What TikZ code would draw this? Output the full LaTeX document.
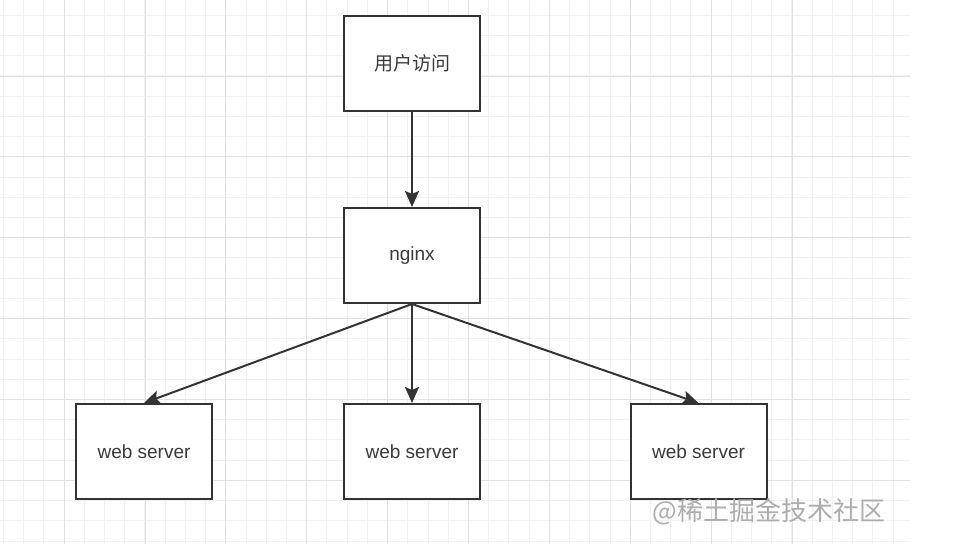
\documentclass[tikz,border=0pt]{standalone}
\usepackage{fontspec}
\setmainfont{Liberation Sans}
\newfontfamily\cjk{Noto Sans CJK SC}
\usepackage{tikz}
\usetikzlibrary{arrows.meta}
\definecolor{edge}{HTML}{333333}
\definecolor{txt}{HTML}{3A3A3A}
\definecolor{minorgrid}{HTML}{F1F1F1}
\definecolor{majorgrid}{HTML}{E2E2E2}
\definecolor{wmark}{HTML}{ADADAD}

\begin{document}
\begin{tikzpicture}[x=1pt,y=-1pt,
  >={Stealth[length=16pt,width=14pt,inset=3pt]},
  box/.style={draw=edge,line width=2pt,fill=white,minimum width=136pt,
    minimum height=95pt,inner sep=0pt,text=txt,
    font=\fontsize{19}{22}\selectfont},
  link/.style={->,draw=edge,line width=2pt}]
\useasboundingbox (0,0) rectangle (962,544);
% background grid
\foreach \i in {0,...,44}
  \draw[minorgrid,line width=1pt] ({3.4+\i*20.22},0)--({3.4+\i*20.22},544);
\foreach \j in {0,...,26}
  \draw[minorgrid,line width=1pt] (0,{15.3+\j*20.22})--(910,{15.3+\j*20.22});
\foreach \i in {0,...,10}
  \draw[majorgrid,line width=1pt] ({-16.8+\i*80.9},0)--({-16.8+\i*80.9},544);
\foreach \j in {0,...,6}
  \draw[majorgrid,line width=1pt] (0,{-4.9+\j*80.9})--(910,{-4.9+\j*80.9});

% boxes
\node[box] (user)  at (412,63)    {\cjk 用户访问};
\node[box] (nginx) at (412,255.5) {nginx};
\node[box] (web1)  at (144,451.5) {web server};
\node[box] (web2)  at (412,451.5) {web server};
\node[box] (web3)  at (698.5,451.5) {web server};

% arrows
\draw[link] (user) -- (nginx);
\draw[link] (nginx.south) -- (web1.north);
\draw[link] (nginx.south) -- (web2.north);
\draw[link] (nginx.south) -- (web3.north);

\node[wmark,font=\cjk\fontsize{26}{28}\selectfont] (credit) at (769,512)
  {@稀土掘金技术社区};
\end{tikzpicture}
\end{document}
